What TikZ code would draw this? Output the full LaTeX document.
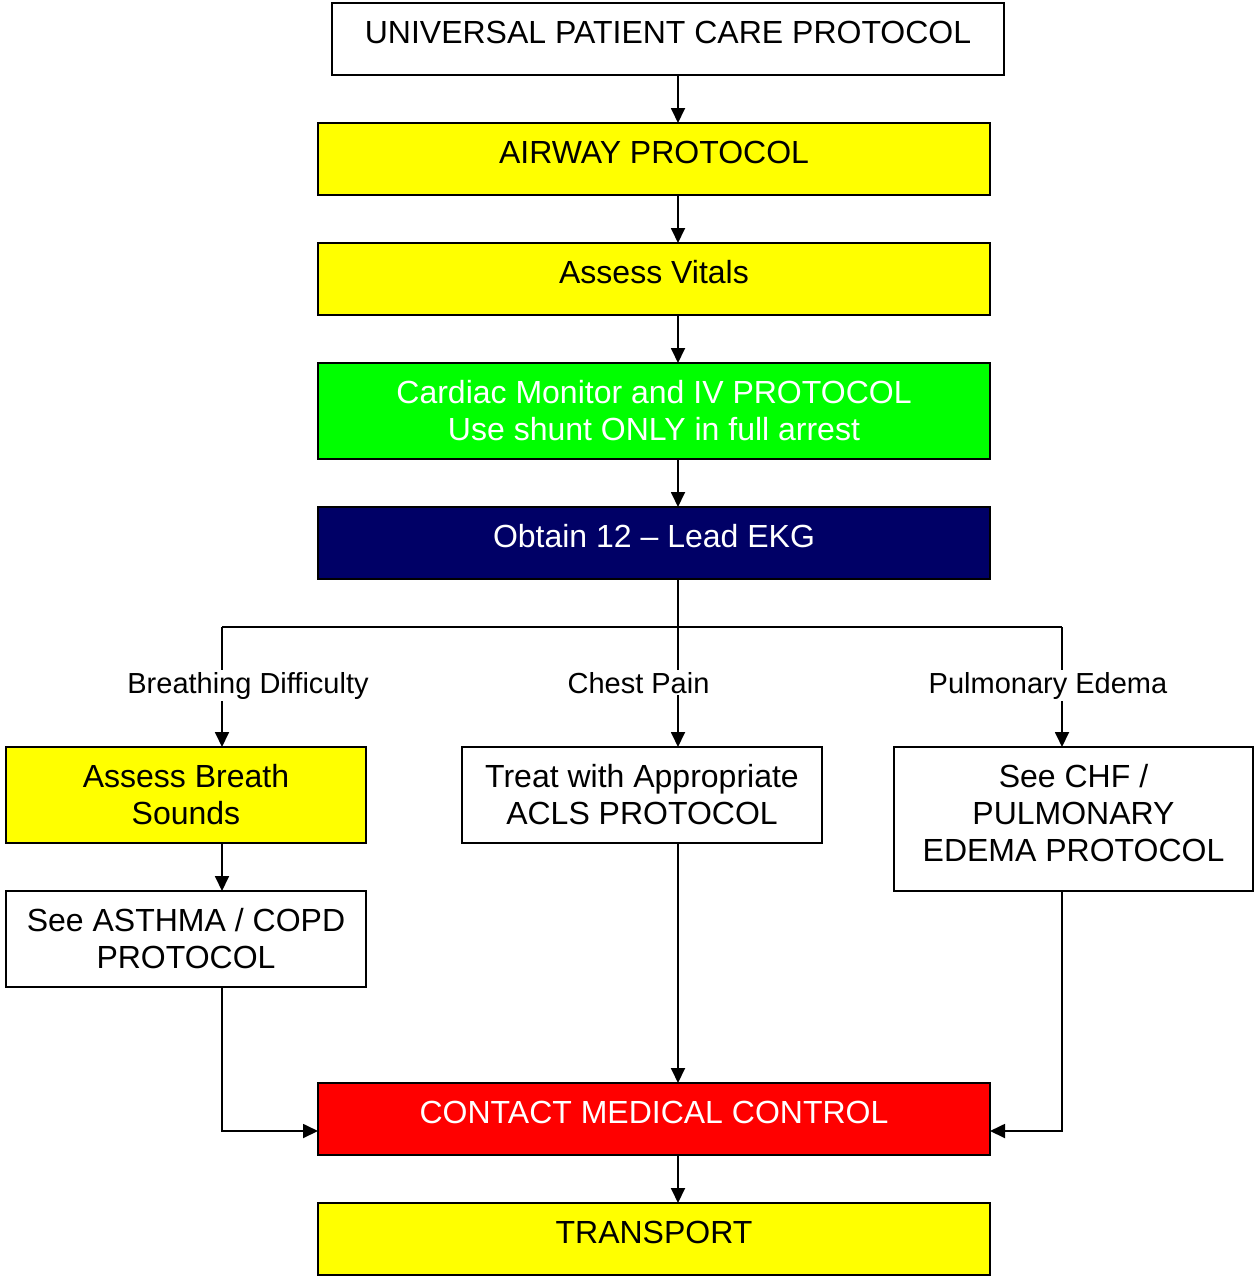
\documentclass[tikz,border=0pt]{standalone}
\usepackage{fontspec}
\setmainfont{Liberation Sans}
\usetikzlibrary{arrows.meta,calc}
\definecolor{navybox}{HTML}{000066}
\definecolor{yellowbox}{HTML}{FFFF00}
\definecolor{greenbox}{HTML}{00FF00}
\definecolor{redbox}{HTML}{FF0000}
\begin{document}
\begin{tikzpicture}[x=1pt,y=-1pt,
  box/.style={draw=black, line width=1.8pt, anchor=north west, inner sep=0pt, outer sep=0pt, minimum width=672pt, minimum height=72pt},
  txt/.style={font=\fontsize{32}{37}\selectfont, align=center, anchor=north, inner sep=0pt},
  lbl/.style={font=\fontsize{29}{34}\selectfont, anchor=base, fill=white, inner sep=1.5pt},
  ln/.style={line width=1.8pt},
  arr/.style={line width=1.8pt, -{Triangle[length=15pt,width=14pt]}}]
\useasboundingbox (0,0) rectangle (1254,1277);
% boxes
\node[box, fill=white] (b1) at (332,3) {};
\node[box, fill=yellowbox] (b2) at (318,123) {};
\node[box, fill=yellowbox] (b3) at (318,243) {};
\node[box, fill=greenbox, minimum height=96pt] (b4) at (318,363) {};
\node[box, fill=navybox] (b5) at (318,507) {};
\node[box, fill=yellowbox, minimum width=360pt, minimum height=96pt] (b6) at (6,747) {};
\node[box, fill=white, minimum width=360pt, minimum height=96pt] (b7) at (462,747) {};
\node[box, fill=white, minimum width=359pt, minimum height=144pt] (b8) at (894,747) {};
\node[box, fill=white, minimum width=360pt, minimum height=96pt] (b9) at (6,891) {};
\node[box, fill=redbox] (b10) at (318,1083) {};
\node[box, fill=yellowbox] (b11) at (318,1203) {};
% texts
\node[txt] (t1) at ($(b1.north)+(0,17.5)$) {UNIVERSAL PATIENT CARE PROTOCOL};
\node[txt] (t2) at ($(b2.north)+(0,17.5)$) {AIRWAY PROTOCOL};
\node[txt] (t3) at ($(b3.north)+(0,17.5)$) {Assess Vitals};
\node[txt, text=white] (t4) at ($(b4.north)+(0,17.5)$) {Cardiac Monitor and IV PROTOCOL\\Use shunt ONLY in full arrest};
\node[txt, text=white] (t5) at ($(b5.north)+(0,17.5)$) {Obtain 12 – Lead EKG};
\node[txt] (t6) at ($(b6.north)+(0,17.5)$) {Assess Breath\\Sounds};
\node[txt] (t7) at ($(b7.north)+(0,17.5)$) {Treat with Appropriate\\ACLS PROTOCOL};
\node[txt] (t8) at ($(b8.north)+(0,17.5)$) {See CHF /\\PULMONARY\\EDEMA PROTOCOL};
\node[txt] (t9) at ($(b9.north)+(0,17.5)$) {See ASTHMA / COPD\\PROTOCOL};
\node[txt, text=white] (t10) at ($(b10.north)+(0,17.5)$) {CONTACT MEDICAL CONTROL};
\node[txt] (t11) at ($(b11.north)+(0,17.5)$) {TRANSPORT};
% helper coordinates
\coordinate (xm) at (678,0);
\coordinate (xl) at (222,0);
\coordinate (xr) at (1062,0);
\coordinate (ys) at (0,627);
\coordinate (yc) at (0,1131);
% connectors
\draw[arr] (b1.south -| xm) -- (b2.north -| xm);
\draw[arr] (b2.south -| xm) -- (b3.north -| xm);
\draw[arr] (b3.south -| xm) -- (b4.north -| xm);
\draw[arr] (b4.south -| xm) -- (b5.north -| xm);
\draw[arr] (b5.south -| xm) -- (b7.north -| xm);
\draw[ln] (ys -| xl) -- (ys -| xr);
\draw[arr] (ys -| xl) -- (b6.north -| xl);
\draw[arr] (ys -| xr) -- (b8.north -| xr);
\draw[arr] (b6.south -| xl) -- (b9.north -| xl);
\draw[arr] (b9.south -| xl) |- (b10.west |- yc);
\draw[arr] (b7.south -| xm) -- (b10.north -| xm);
\draw[arr] (b8.south -| xr) |- (b10.east |- yc);
\draw[arr] (b10.south -| xm) -- (b11.north -| xm);
% branch labels
\node[lbl] (l1) at (248,693) {Breathing Difficulty};
\node[lbl] (l2) at (638.5,693) {Chest Pain};
\node[lbl] (l3) at (1048,693) {Pulmonary Edema};
\end{tikzpicture}
\end{document}
